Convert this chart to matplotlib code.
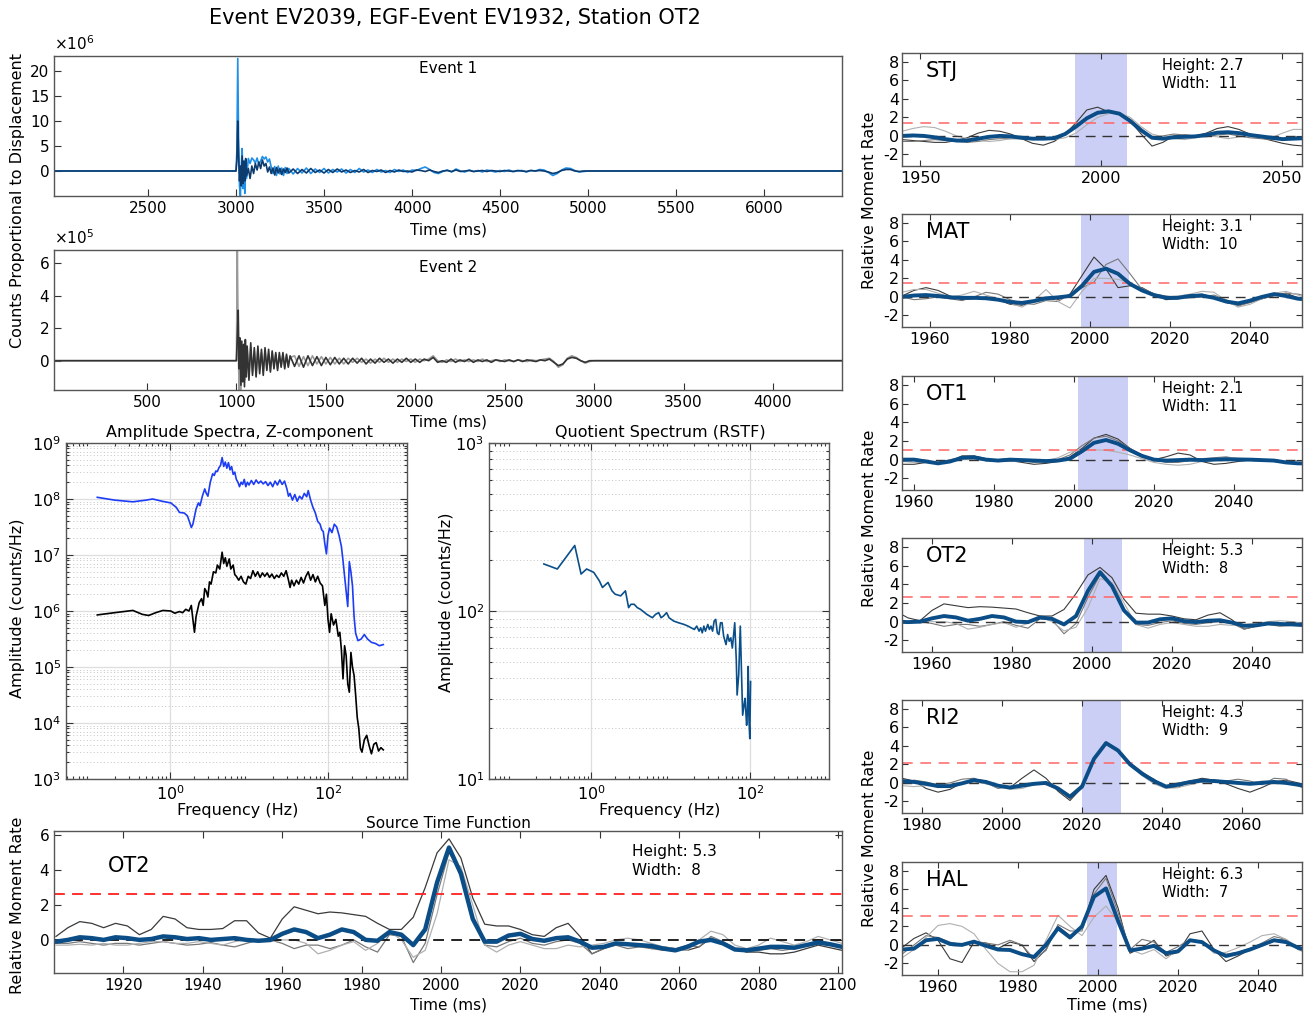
import numpy as np
import matplotlib
matplotlib.use('Agg')
import matplotlib.pyplot as plt

# ---------------- DATA ----------------
# Event 1 waveform (units of 1e6 counts), two components
E1_PRE_T = [1966, 2995]
E1_PRE_V = [0.0, 0.0]
E1_ONSET_T = [3000, 3005, 3010, 3015, 3020, 3025, 3030, 3035, 3040, 3045, 3050, 3055, 3060,
              3070, 3080, 3090, 3100, 3110, 3120, 3130, 3140, 3150, 3160, 3170, 3180, 3190,
              3200, 3210, 3220, 3230, 3240, 3250, 3260, 3270, 3280, 3290, 3300]
E1_LIGHT_ONSET = [0, 4, 22.5, 5, -3, -5, 1, 4.5, -3.5, 1.5, -4.5, 0.5, -1.5, 2.5, 1.5, 2.6, 2.2,
                  1.6, 2.6, 1.2, 2.0, 2.9, 2.4, 2.8, 1.8, 2.4, 0.8, -0.5, 0.9, -0.9, 1.0, -0.6,
                  0.6, -0.9, 0.7, -0.5, 0.5]
E1_DARK_ONSET = [0, 2, 10, 3, -2, 1, -3, 3, -2.5, 2, -2, 2.5, -1, 0.5, -1.5, 1.0, -0.5, 1.5, 0.2,
                 1.8, 0.5, 2.2, 1.0, 1.5, -0.2, 0.8, -0.5, 0.6, -0.8, 0.7, -0.4, 0.5, -0.7, 0.4,
                 -0.3, 0.6, -0.4]
E1_CODA_T = np.arange(3325, 5001, 25)
E1_LIGHT_CODA = [-0.6, 0.5, -0.4, 0.6, -0.5, 0.4, -0.3, 0.5, -0.4, 0.3,
                 -0.2, 0.4, -0.4, 0.3, -0.3, 0.5, -0.2, 0.2, -0.3, 0.3,
                 -0.2, 0.1, -0.3, 0.3, -0.1, 0.2, -0.3, 0.2,
                 0.1, 0.5, 0.8, 0.3, -0.3, -0.5, -0.1, 0.2, -0.2, 0.4,
                 0.0, -0.2, 0.2, -0.1, 0.1, -0.2, 0.2, 0.0, -0.2, 0.1,
                 -0.1, 0.2, -0.1, 0.0, 0.1, -0.2, 0.1, 0.0, 0.3, 0.2,
                 -0.3, -0.9, -0.5, 0.2, 0.6, 0.5, 0.1, -0.2, -0.1, 0.0]
E1_DARK_CODA = [0.4, -0.5, 0.3, -0.4, 0.5, -0.3, 0.2, -0.4, 0.3, -0.3,
                0.4, -0.2, 0.2, -0.3, 0.1, -0.2, 0.3, -0.3, 0.1, -0.1,
                0.2, -0.3, 0.1, -0.2, 0.2, -0.1, 0.0, -0.2,
                0.2, 0.1, -0.1, 0.2, -0.1, -0.3, 0.0, 0.1, -0.1, 0.2,
                -0.1, 0.0, 0.1, -0.1, 0.0, 0.1, -0.1, 0.1, 0.0, -0.1,
                0.1, 0.0, -0.1, 0.1, 0.0, -0.1, 0.1, 0.0, 0.1, 0.0,
                -0.2, -0.5, -0.3, 0.1, 0.3, 0.3, 0.0, -0.1, 0.0, 0.0]
E1_POST_T = [5025, 6443]
E1_POST_V = [0.0, 0.0]

# Event 2 waveform (units of 1e5 counts)
E2_PRE_T = [-20, 995]
E2_PRE_V = [0.0, 0.0]
E2_ONSET_T = [1000, 1005, 1010, 1015, 1020, 1025, 1030, 1035, 1040, 1045, 1050, 1055, 1060,
              1070, 1080, 1090, 1100, 1110, 1120, 1130, 1140, 1150, 1160, 1170, 1180, 1190,
              1200, 1210, 1220, 1230, 1240, 1250, 1260, 1270, 1280, 1290, 1300]
E2_DARK_ONSET = [0, 1.5, 3.1, -0.5, 1.4, -1.5, 1.2, -1.3, 1.0, -1.6, 1.3, -1.0, 0.9, -1.2, 1.1,
                 -0.9, 0.8, -1.0, 0.9, -0.8, 0.7, -0.9, 0.8, -0.6, 0.7, -0.7, 0.6, -0.5, 0.5,
                 -0.6, 0.5, -0.4, 0.5, -0.5, 0.4, -0.4, 0.3]
E2_LIGHT_ONSET = [0, 6.9, 1.0, -1.8, 0.5, -1.8, 0.8, -1.0, 0.6, -1.2, 0.9, -0.8, 0.7, -1.0, 0.8,
                  -0.7, 0.6, -0.9, 0.7, -0.6, 0.5, -0.7, 0.6, -0.5, 0.4, -0.6, 0.5, -0.4, 0.4,
                  -0.5, 0.3, -0.3, 0.4, -0.4, 0.3, -0.3, 0.2]
E2_CODA_T = np.arange(1325, 3001, 25)
E2_DARK_CODA = [-0.35, 0.3, -0.4, 0.3, -0.3, 0.25, -0.3, 0.2, -0.25, 0.2,
                -0.2, 0.15, -0.2, 0.15, -0.15, 0.15, -0.2, 0.1, -0.15, 0.15,
                -0.1, 0.1, -0.15, 0.1, -0.1, 0.15, -0.1, 0.1,
                -0.1, 0.1, 0.0, 0.2, -0.1, 0.0, -0.1, 0.1, -0.1, 0.05,
                -0.05, 0.1, -0.1, 0.05, -0.05, 0.05, -0.1, 0.05, 0.0, -0.05,
                0.05, -0.05, 0.05, -0.05, 0.05, 0.0, -0.05, 0.05, 0.0, 0.1,
                -0.1, -0.3, -0.2, 0.1, 0.2, 0.15, 0.0, -0.1, 0.0, 0.0]
E2_LIGHT_CODA = [0.3, -0.35, 0.25, -0.3, 0.3, -0.2, 0.25, -0.2, 0.2, -0.2,
                 0.15, -0.2, 0.15, -0.1, 0.15, -0.1, 0.1, -0.15, 0.1, -0.1,
                 0.15, -0.1, 0.1, -0.1, 0.1, -0.05, 0.1, -0.1,
                 0.1, 0.0, 0.1, 0.3, 0.0, -0.1, 0.05, -0.05, 0.1, -0.05,
                 0.05, -0.05, 0.05, -0.05, 0.1, -0.05, 0.0, 0.05, -0.05, 0.05,
                 0.0, -0.05, 0.05, 0.0, -0.05, 0.05, 0.0, 0.05, 0.1, 0.15,
                 -0.05, -0.4, -0.25, 0.15, 0.3, 0.2, 0.0, -0.15, -0.05, 0.0]
E2_POST_T = [3025, 4386]
E2_POST_V = [0.0, 0.0]

# Amplitude spectra (log10 frequency [Hz], log10 amplitude [counts/Hz])
SPEC_BLUE_LOGF = [-0.92, -0.70, -0.47, -0.30, -0.22, -0.10, 0.01, 0.08, 0.12, 0.18, 0.22, 0.25,
                  0.27, 0.29, 0.33, 0.36, 0.38, 0.41, 0.44, 0.46, 0.48, 0.51, 0.54, 0.56, 0.58,
                  0.60, 0.62, 0.64, 0.66, 0.68, 0.70, 0.72, 0.74, 0.76, 0.78, 0.80, 0.82, 0.84,
                  0.86, 0.88, 0.90, 0.92, 0.94, 0.96, 0.98, 1.00, 1.03, 1.06, 1.09, 1.12, 1.15,
                  1.18, 1.21, 1.24, 1.27, 1.30, 1.33, 1.36, 1.39, 1.42, 1.45, 1.48, 1.50, 1.52,
                  1.55, 1.58, 1.61, 1.64, 1.67, 1.70, 1.73, 1.75, 1.78, 1.81, 1.84, 1.87, 1.90,
                  1.92, 1.94, 1.96, 1.98, 2.00, 2.02, 2.05, 2.08, 2.11, 2.14, 2.17, 2.19, 2.21,
                  2.23, 2.25, 2.27, 2.29, 2.31, 2.33, 2.35, 2.38, 2.42, 2.46, 2.50, 2.55, 2.60,
                  2.65, 2.70]
SPEC_BLUE_LOGA = [8.03, 7.98, 7.95, 7.98, 8.00, 7.96, 7.93, 7.85, 7.76, 7.75, 7.70, 7.58,
                  7.49, 7.55, 7.82, 7.93, 7.88, 8.05, 8.18, 8.10, 8.05, 8.30, 8.45, 8.42, 8.50,
                  8.49, 8.56, 8.60, 8.74, 8.58, 8.66, 8.55, 8.65, 8.52, 8.58, 8.44, 8.48, 8.35,
                  8.30, 8.22, 8.30, 8.26, 8.35, 8.22, 8.30, 8.25, 8.33, 8.26, 8.34, 8.28, 8.32,
                  8.27, 8.31, 8.24, 8.30, 8.22, 8.32, 8.25, 8.34, 8.26, 8.32, 8.18, 8.05, 8.10,
                  7.98, 8.08, 7.96, 8.05, 8.00, 8.10, 8.04, 8.15, 7.98, 7.85, 7.75, 7.60, 7.55,
                  7.45, 7.42, 7.20, 7.02, 7.35, 7.48, 7.40, 7.55, 7.50, 7.35, 7.15, 6.90, 6.62,
                  6.35, 6.08, 6.88, 6.70, 6.45, 5.90, 5.60, 5.47, 5.50, 5.58, 5.50, 5.44, 5.42,
                  5.38, 5.40]
SPEC_BLACK_LOGF = [-0.92, -0.70, -0.47, -0.35, -0.27, -0.18, -0.09, 0.01, 0.06, 0.12, 0.16, 0.20,
                   0.24, 0.27, 0.29, 0.31, 0.33, 0.37, 0.40, 0.42, 0.44, 0.46, 0.48, 0.50, 0.52,
                   0.55, 0.58, 0.60, 0.63, 0.66, 0.68, 0.70, 0.72, 0.75, 0.77, 0.80, 0.82, 0.84,
                   0.87, 0.90, 0.93, 0.96, 0.99, 1.02, 1.05, 1.08, 1.11, 1.14, 1.17, 1.20, 1.23,
                   1.26, 1.29, 1.32, 1.35, 1.38, 1.41, 1.44, 1.47, 1.50, 1.52, 1.54, 1.57, 1.60,
                   1.63, 1.66, 1.69, 1.72, 1.75, 1.78, 1.81, 1.84, 1.87, 1.90, 1.93, 1.96, 1.98,
                   2.00, 2.02, 2.04, 2.07, 2.10, 2.13, 2.15, 2.17, 2.19, 2.21, 2.23, 2.25, 2.27,
                   2.29, 2.31, 2.33, 2.35, 2.37, 2.39, 2.41, 2.43, 2.46, 2.49, 2.52, 2.55, 2.58,
                   2.61, 2.64, 2.67, 2.70]
SPEC_BLACK_LOGA = [5.93, 5.97, 6.01, 5.94, 5.92, 5.97, 6.01, 6.00, 5.96, 5.99, 5.97, 6.03,
                   6.00, 6.10, 5.85, 5.62, 5.90, 6.15, 6.22, 6.10, 6.40, 6.35, 6.25, 6.52, 6.48,
                   6.70, 6.68, 6.82, 6.75, 7.05, 6.85, 6.95, 6.80, 6.93, 6.75, 6.82, 6.65, 6.62,
                   6.55, 6.62, 6.52, 6.48, 6.62, 6.58, 6.72, 6.62, 6.70, 6.60, 6.68, 6.62, 6.68,
                   6.60, 6.66, 6.58, 6.64, 6.60, 6.68, 6.62, 6.72, 6.55, 6.42, 6.55, 6.45, 6.55,
                   6.48, 6.60, 6.50, 6.62, 6.70, 6.55, 6.65, 6.52, 6.62, 6.50, 6.45, 6.10, 6.30,
                   5.85, 5.62, 5.95, 5.75, 5.85, 5.55, 5.62, 5.30, 4.79, 5.38, 5.20, 4.70, 4.55,
                   5.26, 5.00, 4.85, 4.50, 4.10, 3.90, 3.55, 3.48, 3.70, 3.78, 3.60, 3.45, 3.62,
                   3.65, 3.50, 3.56, 3.52]

# Quotient spectrum (RSTF)
QUOT_LOGF = [-0.60, -0.43, -0.21, -0.13, -0.06, 0.03, 0.10, 0.14, 0.21, 0.26, 0.30, 0.37, 0.43,
             0.47, 0.50, 0.54, 0.58, 0.62, 0.70, 0.77, 0.81, 0.85, 0.88, 0.91, 0.95, 0.98, 1.04,
             1.10, 1.17, 1.22, 1.26, 1.30, 1.33, 1.36, 1.38, 1.40, 1.42, 1.44, 1.47, 1.49, 1.51,
             1.53, 1.55, 1.57, 1.59, 1.61, 1.63, 1.65, 1.67, 1.70, 1.72, 1.74, 1.76, 1.78, 1.81,
             1.83, 1.84, 1.86, 1.88, 1.90, 1.91, 1.93, 1.94, 1.96, 1.97, 1.98, 1.99, 2.00, 2.01]
QUOT_LOGA = [2.28, 2.25, 2.39, 2.22, 2.25, 2.23, 2.18, 2.14, 2.17, 2.12, 2.10, 2.09, 2.12,
             2.02, 2.04, 2.04, 2.02, 2.01, 1.98, 1.96, 1.98, 1.99, 1.96, 1.97, 1.99, 1.96, 1.94,
             1.93, 1.92, 1.91, 1.90, 1.89, 1.91, 1.88, 1.90, 1.87, 1.91, 1.88, 1.92, 1.89, 1.91,
             1.88, 1.94, 1.95, 1.87, 1.86, 1.93, 1.93, 1.85, 1.80, 1.86, 1.82, 1.84, 1.78, 1.93,
             1.70, 1.50, 1.62, 1.91, 1.55, 1.38, 1.45, 1.48, 1.32, 1.40, 1.67, 1.35, 1.24, 1.58]

# Source time functions: mean (blue) and three individual estimates (grays)
OT2_T = np.arange(1903, 2102, 3)
OT2_MEAN = [-0.1, 0.0, 0.15, 0.1, 0.0, 0.15, 0.1, 0.0, 0.05, 0.2,
            0.15, 0.05, 0.1, 0.0, 0.05, 0.1, 0.0, -0.05, 0.0, 0.35,
            0.6, 0.45, 0.1, 0.3, 0.6, 0.45, 0.0, -0.05, 0.45, 0.3,
            -0.3, 0.6, 3.3, 5.3, 3.8, 1.2, -0.1, -0.1, 0.25, 0.35,
            0.05, -0.05, 0.1, 0.15, -0.1, -0.45, -0.4, -0.2, -0.25, -0.3,
            -0.35, -0.5, -0.6, -0.4, -0.1, 0.0, -0.2, -0.55, -0.6, -0.5,
            -0.4, -0.4, -0.45, -0.3, -0.15, -0.25, -0.4]
OT2_G1 = [0.2, 0.7, 1.05, 0.95, 0.7, 0.95, 0.8, 0.3, 0.6, 1.35,
          1.2, 0.7, 0.6, 0.6, 0.65, 1.1, 1.1, 0.4, 0.1, 1.2,
          1.9, 1.7, 1.5, 1.6, 1.55, 1.45, 1.35, 0.95, 0.6, 0.6,
          1.3, 3.0, 5.0, 5.8, 4.7, 2.4, 0.9, 0.8, 0.8, 0.6,
          0.3, 0.2, 0.7, 0.95, 0.2, -0.8, -0.5, -0.2, -0.2, -0.3,
          -0.5, -0.4, -0.5, -0.6, -0.4, 0.1, -0.2, -0.5, -0.7, -0.7,
          -0.8, -0.8, -0.7, -0.5, -0.3, -0.45, -0.6]
OT2_G2 = [-0.2, -0.2, -0.1, -0.2, -0.3, -0.2, -0.2, -0.3, -0.2, -0.1,
          -0.2, -0.3, -0.25, -0.15, -0.3, -0.4, -0.2, 0.0, 0.0, -0.2,
          -0.5, -0.3, -0.3, -0.5, -0.3, 0.0, -0.4, -0.7, 0.3, 0.2,
          -1.3, -0.2, 2.6, 5.0, 3.9, 1.2, -0.3, -0.4, -0.1, 0.1,
          -0.2, -0.3, -0.1, 0.0, -0.2, -0.8, -0.5, -0.3, -0.5, -0.4,
          -0.5, -0.6, -0.55, -0.3, -0.4, 0.2, -0.1, -0.5, -0.7, -0.6,
          -0.5, -0.6, -0.5, -0.3, 0.0, -0.2, -0.4]
OT2_G3 = [-0.3, -0.3, -0.25, -0.3, -0.2, -0.3, -0.3, -0.2, -0.1, -0.1,
          -0.2, -0.2, -0.1, -0.2, -0.3, -0.1, 0.0, -0.1, -0.1, 0.0,
          0.0, -0.2, -0.8, -0.6, -0.3, -0.1, -0.6, -0.2, 0.5, 0.0,
          -1.0, -0.6, 1.5, 4.6, 4.2, 2.0, -0.3, -0.7, -0.3, -0.1,
          -0.3, -0.5, -0.5, -0.3, -0.4, -0.3, -0.2, 0.0, 0.1, 0.0,
          -0.2, -0.4, -0.5, -0.6, 0.0, 0.5, 0.3, -0.3, -0.5, -0.3,
          0.1, -0.1, -0.3, -0.1, 0.2, 0.0, -0.2]

STJ_T = np.arange(1945, 2057, 3)
STJ_MEAN = [0.0, 0.05, 0.0, -0.15, -0.35, -0.5, -0.5, -0.3, -0.1, 0.0,
            -0.05, -0.2, -0.3, -0.3, -0.25, 0.2, 1.0, 1.9, 2.5, 2.65,
            2.4, 1.6, 0.6, -0.2, -0.3, -0.15, -0.1, -0.05, 0.1, 0.35,
            0.4, 0.3, 0.1, -0.05, -0.2, -0.35, -0.3, -0.25]
STJ_G1 = [-0.4, -0.5, -0.6, -0.7, -0.7, -0.5, -0.2, 0.3, 0.6, 0.5,
          0.2, -0.3, -0.8, -1.0, -0.6, 0.2, 1.4, 2.8, 3.1, 2.6,
          2.3, 1.6, 0.2, -1.1, -0.7, 0.0, 0.1, 0.0, 0.3, 0.8,
          1.0, 0.7, 0.2, -0.2, -0.5, -0.8, -1.0, -1.1]
STJ_G2 = [-0.6, -0.6, -0.5, -0.4, -0.5, -0.6, -0.7, -0.6, -0.4, -0.3,
          -0.3, -0.3, -0.2, -0.4, -0.3, 0.3, 1.1, 2.0, 2.4, 2.7,
          2.4, 1.8, 0.8, -0.2, 0.0, 0.2, 0.1, 0.0, -0.1, 0.1,
          0.2, 0.0, -0.2, -0.3, -0.4, -0.4, -0.3, -0.3]
STJ_G3 = [0.5, 0.8, 1.0, 0.9, 0.5, 0.0, -0.3, -0.5, -0.6, -0.5,
          -0.3, -0.3, -0.4, -0.3, -0.4, -0.2, 0.3, 1.2, 2.0, 2.4,
          2.5, 2.0, 1.0, 0.2, -0.1, -0.3, -0.4, -0.2, 0.0, -0.1,
          -0.3, -0.1, 0.0, -0.2, -0.2, 0.3, 0.7, 0.7]

MAT_T = np.arange(1953, 2056, 3)
MAT_MEAN = [0.0, 0.15, 0.2, 0.1, -0.05, -0.1, -0.1, -0.15, -0.3, -0.55,
            -0.65, -0.45, -0.15, -0.05, 0.1, 1.2, 2.7, 3.05, 2.5, 1.4,
            0.7, 0.2, -0.1, -0.1, 0.1, 0.15, -0.1, -0.5, -0.7, -0.4,
            0.0, 0.3, 0.1, -0.2, -0.3]
MAT_G1 = [0.1, 0.7, 1.0, 0.7, 0.1, -0.3, -0.2, 0.0, -0.3, -0.8,
          -0.9, -0.5, -0.2, -0.3, 0.3, 2.3, 4.3, 3.0, 1.0, 1.2,
          1.0, 0.3, -0.3, -0.2, 0.2, 0.3, -0.1, -0.6, -0.9, -0.6,
          -0.2, 0.2, 0.4, -0.1, -0.8]
MAT_G2 = [0.0, -0.3, -0.2, 0.0, -0.2, -0.4, 0.0, 0.5, 0.3, -0.3,
          -0.7, -0.8, -0.4, -0.5, 0.3, 1.0, 1.6, 3.5, 4.1, 2.5,
          0.8, 0.3, 0.1, -0.1, -0.1, 0.0, 0.2, -0.3, -1.0, -0.6,
          -0.2, 0.1, 0.4, 0.3, 0.0]
MAT_G3 = [0.5, 0.8, 0.8, 0.4, 0.0, 0.2, 0.6, 0.2, -0.2, -0.7,
          -1.1, -0.4, 0.8, -0.5, -1.2, 0.6, 2.0, 2.0, 1.9, 1.5,
          0.9, 0.3, 0.0, 0.1, 0.3, 0.6, 0.5, -0.4, -1.1, -0.8,
          -0.2, 0.4, 0.6, 0.2, -0.3]

OT1_T = np.arange(1957, 2060, 3)
OT1_MEAN = [0.0, 0.0, -0.2, -0.4, -0.2, 0.2, 0.25, 0.0, -0.1, 0.0,
            -0.05, -0.1, -0.15, -0.1, 0.1, 0.9, 1.8, 2.1, 1.7, 1.0,
            0.4, 0.0, -0.1, -0.05, 0.0, -0.05, 0.0, 0.05, 0.0, 0.0,
            -0.05, -0.1, -0.3, -0.4, -0.4]
OT1_G1 = [-0.5, -0.5, -0.3, -0.4, -0.2, 0.4, 0.4, 0.1, -0.2, -0.1,
          -0.3, -0.5, -0.4, -0.2, 0.3, 1.2, 2.3, 2.7, 2.2, 1.2,
          0.5, 0.0, 0.3, 0.7, 0.5, -0.2, -0.5, -0.4, -0.2, 0.0,
          -0.1, -0.2, -0.3, -0.4, -0.4]
OT1_G2 = [0.0, 0.1, -0.1, -0.3, 0.0, 0.2, 0.1, -0.1, 0.0, 0.1,
          -0.1, -0.3, -0.2, 0.0, 0.5, 1.5, 2.3, 2.5, 2.0, 1.2,
          0.4, 0.0, -0.3, -0.3, -0.1, 0.1, 0.2, 0.3, 0.1, 0.0,
          -0.1, -0.2, -0.3, -0.5, -0.5]
OT1_G3 = [-0.2, -0.3, -0.3, -0.3, -0.1, 0.0, 0.0, -0.1, -0.2, -0.2,
          -0.2, -0.1, -0.1, 0.2, 0.8, 1.0, 1.05, 1.0, 0.8, 0.5,
          0.1, -0.3, -0.5, -0.6, -0.5, -0.2, 0.1, 0.2, 0.2, 0.1,
          0.0, -0.1, -0.2, -0.3, -0.3]

RI2_T = np.arange(1975, 2078, 3)
RI2_MEAN = [0.2, 0.1, -0.1, -0.35, -0.35, -0.05, 0.3, 0.1, -0.3, -0.5,
            -0.3, -0.1, 0.0, -0.6, -1.5, -0.4, 2.6, 4.3, 3.5, 2.0,
            1.0, 0.2, -0.4, -0.2, 0.1, 0.25, 0.2, 0.1, 0.0, -0.1,
            0.0, 0.1, 0.0, -0.2, -0.4]
RI2_G1 = [0.5, 0.2, -0.6, -1.0, -0.7, 0.0, 0.4, 0.2, -0.4, -0.5,
          0.5, 1.4, 0.5, -0.9, -1.9, -0.5, 2.5, 4.4, 3.6, 2.1,
          1.1, 0.4, -0.5, -0.5, 0.2, 0.5, 0.3, -0.1, -0.6, -1.0,
          -0.5, 0.1, 0.3, 0.0, -0.3]
RI2_G2 = [0.0, 0.3, 0.1, -0.2, 0.0, 0.4, 0.5, 0.0, -0.6, -0.4,
          -0.1, 0.0, -0.2, -0.7, -1.7, -0.3, 2.6, 4.2, 3.4, 2.2,
          1.2, 0.3, -0.3, 0.0, 0.2, 0.1, 0.3, 0.2, 0.4, 0.2,
          -0.2, 0.5, 0.4, -0.3, -0.9]
RI2_G3 = [-0.3, -0.4, -0.3, -0.3, -0.1, 0.0, 0.1, -0.1, -0.4, -0.7,
          -0.6, -0.2, 0.0, -0.5, -1.3, -0.2, 2.6, 4.3, 3.6, 2.0,
          0.8, -0.1, -0.6, -0.5, -0.2, 0.1, 0.2, 0.2, 0.0, 0.0,
          0.2, 0.2, -0.1, -0.2, -0.3]

HAL_T = np.arange(1951, 2054, 3)
HAL_MEAN = [-0.5, -0.4, 0.5, 0.65, 0.1, 0.0, 0.35, -0.1, -0.5, -0.55,
            -1.0, -1.3, 0.0, 1.8, 0.8, 2.0, 5.2, 6.1, 2.6, -0.6,
            -0.4, -0.1, -0.9, -0.7, 0.5, 0.3, -0.6, -1.2, -0.9, -0.5,
            0.0, 0.5, 0.3, -0.3, -0.6]
HAL_G1 = [-0.3, 0.7, 1.3, 0.5, -1.5, -1.9, 0.3, 0.2, -0.4, 0.3,
          0.0, -1.8, -0.5, 2.0, 1.0, 1.8, 6.0, 7.5, 4.0, -0.9,
          -0.3, 0.5, -1.2, -0.8, 1.2, 1.5, -0.5, -1.8, -1.2, -0.5,
          0.0, 0.6, 0.5, -0.3, -0.7]
HAL_G2 = [-1.0, 0.0, 1.0, 0.8, 0.3, 0.0, 0.4, 0.2, 0.0, 0.5,
          0.0, -1.5, -0.6, 2.2, 1.5, 1.5, 5.5, 7.2, 3.5, -0.5,
          0.6, 0.3, -0.8, -0.2, 0.6, 0.2, -0.6, -1.0, -0.8, -0.4,
          0.2, 0.9, 0.6, -0.5, -1.0]
HAL_G3 = [-1.4, -0.5, 0.8, 2.1, 2.3, 2.0, 1.2, -0.5, -2.0, -2.9,
          -2.9, -2.2, 0.5, 3.2, 2.0, 1.0, 3.0, 4.2, 2.5, -0.5,
          -1.0, -0.5, -1.5, -0.5, 0.5, 0.3, -0.9, -0.8, -0.3, 0.3,
          1.0, 1.2, 0.6, -0.2, -1.3]

STATIONS = ['STJ', 'MAT', 'OT1', 'OT2', 'RI2', 'HAL']
HEIGHTS = ['2.7', '3.1', '2.1', '5.3', '4.3', '6.3']
WIDTHS = ['11', '10', '11', '8', '9', '7']
HALF_LEVELS = [1.35, 1.55, 1.05, 2.65, 2.15, 3.15]
SPANS = [(1992.8, 2007.1), (1997.7, 2009.7), (2001.0, 2013.5),
         (1998.1, 2007.5), (2020.1, 2029.7), (1997.2, 2004.7)]
XLIMS = [(1945, 2055.4), (1953, 2053), (1957, 2057), (1952.5, 2052.5), (1975, 2075), (1951, 2051)]
XTICKS = [[1950, 2000, 2050], [1960, 1980, 2000, 2020, 2040], [1960, 1980, 2000, 2020, 2040],
          [1960, 1980, 2000, 2020, 2040], [1980, 2000, 2020, 2040, 2060],
          [1960, 1980, 2000, 2020, 2040]]
STF_DATA = [(STJ_T, STJ_MEAN, STJ_G1, STJ_G2, STJ_G3),
            (MAT_T, MAT_MEAN, MAT_G1, MAT_G2, MAT_G3),
            (OT1_T, OT1_MEAN, OT1_G1, OT1_G2, OT1_G3),
            (OT2_T, OT2_MEAN, OT2_G1, OT2_G2, OT2_G3),
            (RI2_T, RI2_MEAN, RI2_G1, RI2_G2, RI2_G3),
            (HAL_T, HAL_MEAN, HAL_G1, HAL_G2, HAL_G3)]

# ---------------- FIGURE ----------------
plt.rcParams['font.family'] = ['DejaVu Sans']
plt.rcParams['axes.unicode_minus'] = False

W, H = 1308, 1017
fig = plt.figure(figsize=(W / 100, H / 100), dpi=100)


def axpx(x0, y0, x1, y1):
    return fig.add_axes([x0 / W, 1 - y1 / H, (x1 - x0) / W, (y1 - y0) / H])


def ftext(x, y, s, **kw):
    fig.text(x / W, 1 - y / H, s, **kw)


def style(ax, fs=11):
    for s in ax.spines.values():
        s.set_color('#555555')
        s.set_linewidth(1.0)
    ax.tick_params(which='both', direction='in', top=True, right=True, labelsize=fs,
                   color='#333333', width=0.8)
    ax.tick_params(which='major', length=5)
    ax.tick_params(which='minor', length=2.5)


GRAYS = ['#3a3a3a', '#787878', '#b0b0b0']
STF_BLUE = '#0b4d86'

# Event 1
ax1 = axpx(54, 56, 842, 196)
t_e1 = np.concatenate([E1_PRE_T, E1_ONSET_T, E1_CODA_T, E1_POST_T])
ax1.plot(t_e1, np.concatenate([E1_PRE_V, E1_LIGHT_ONSET, E1_LIGHT_CODA, E1_POST_V]),
         color='#1f8fe8', lw=1.2)
ax1.plot(t_e1, np.concatenate([E1_PRE_V, E1_DARK_ONSET, E1_DARK_CODA, E1_POST_V]),
         color='#0d3b6e', lw=1.2)
ax1.set_xlim(1966, 6443)
ax1.set_ylim(-5, 23)
ax1.set_xticks(np.arange(2500, 6001, 500))
ax1.set_yticks([0, 5, 10, 15, 20])
style(ax1)
ax1.tick_params(right=False, top=False)
ax1.text(0.5, 0.88, 'Event 1', transform=ax1.transAxes, ha='center', fontsize=11)
ax1.text(0.0, 1.02, r'$\times10^{6}$', transform=ax1.transAxes, ha='left', va='bottom',
         fontsize=11)

# Event 2
ax2 = axpx(54, 250, 842, 390)
t_e2 = np.concatenate([E2_PRE_T, E2_ONSET_T, E2_CODA_T, E2_POST_T])
ax2.plot(t_e2, np.concatenate([E2_PRE_V, E2_LIGHT_ONSET, E2_LIGHT_CODA, E2_POST_V]),
         color='#9a9a9a', lw=1.2)
ax2.plot(t_e2, np.concatenate([E2_PRE_V, E2_DARK_ONSET, E2_DARK_CODA, E2_POST_V]),
         color='#333333', lw=1.2)
ax2.set_xlim(-20, 4386)
ax2.set_ylim(-1.8, 6.8)
ax2.set_xticks(np.arange(500, 4001, 500))
ax2.set_yticks([0, 2, 4, 6])
style(ax2)
ax2.tick_params(right=False, top=False)
ax2.text(0.5, 0.84, 'Event 2', transform=ax2.transAxes, ha='center', fontsize=11)
ax2.text(0.0, 1.02, r'$\times10^{5}$', transform=ax2.transAxes, ha='left', va='bottom',
         fontsize=11)

ftext(18, 200, 'Counts Proportional to Displacement', rotation=90, ha='center', va='center',
      fontsize=11.5)
ftext(448, 230, 'Time (ms)', ha='center', va='center', fontsize=11)
ftext(448, 422, 'Time (ms)', ha='center', va='center', fontsize=11)
ftext(455, 18, 'Event EV2039, EGF-Event EV1932, Station OT2', ha='center', va='center',
      fontsize=15)


def spec_style(ax):
    style(ax, fs=11.5)
    ax.set_xscale('log')
    ax.set_yscale('log')
    ax.grid(True, which='major', color='#dedede', lw=0.9, ls='-')
    ax.grid(True, which='minor', axis='y', color='#c4c4c4', lw=0.7, ls=(0, (1, 2.5)))
    ax.set_axisbelow(True)


# Amplitude spectra
ax3 = axpx(66, 443, 407, 779)
spec_style(ax3)
ax3.plot(10 ** np.array(SPEC_BLUE_LOGF), 10 ** np.array(SPEC_BLUE_LOGA), color='#1d3cf5', lw=1.2)
ax3.plot(10 ** np.array(SPEC_BLACK_LOGF), 10 ** np.array(SPEC_BLACK_LOGA), color='#000000', lw=1.2)
ax3.set_xlim(0.0483, 1000)
ax3.set_ylim(1e3, 1e9)
ax3.set_xticks([1, 100])
ax3.set_yticks([1e3, 1e4, 1e5, 1e6, 1e7, 1e8, 1e9])
ftext(240, 432, 'Amplitude Spectra, Z-component', ha='center', va='center', fontsize=11.5)
ftext(238, 810, 'Frequency (Hz)', ha='center', va='center', fontsize=11.5)
ftext(18, 608, 'Amplitude (counts/Hz)', rotation=90, ha='center', va='center', fontsize=11.5)

# Quotient spectrum
ax4 = axpx(489, 443, 829, 779)
spec_style(ax4)
ax4.plot(10 ** np.array(QUOT_LOGF), 10 ** np.array(QUOT_LOGA), color='#0b4f8a', lw=1.2)
ax4.set_xlim(0.051, 1000)
ax4.set_ylim(10, 1000)
ax4.set_xticks([1, 100])
ax4.set_yticks([10, 100, 1000])
ftext(660, 432, 'Quotient Spectrum (RSTF)', ha='center', va='center', fontsize=11.5)
ftext(660, 810, 'Frequency (Hz)', ha='center', va='center', fontsize=11.5)
ftext(447, 602, 'Amplitude (counts/Hz)', rotation=90, ha='center', va='center', fontsize=11.5)

# Source time function (bottom)
ax5 = axpx(54, 831, 842, 973)
for g, c in zip([OT2_G1, OT2_G2, OT2_G3], GRAYS):
    ax5.plot(OT2_T, g, color=c, lw=0.9)
ax5.axhline(0, color='#111111', lw=1.3, ls=(0, (6, 4)))
ax5.axhline(2.65, color='#ff2020', lw=1.3, ls=(0, (6, 4)))
ax5.plot(OT2_T, OT2_MEAN, color=STF_BLUE, lw=3.2)
ax5.set_xlim(1902.5, 2101)
ax5.set_ylim(-1.9, 6.25)
ax5.set_xticks(np.arange(1920, 2101, 20))
ax5.set_yticks([0, 2, 4, 6])
style(ax5)
ax5.text(0.068, 0.75, 'OT2', transform=ax5.transAxes, fontsize=15, va='center')
ax5.text(0.733, 0.79, 'Height: 5.3\nWidth:  8', transform=ax5.transAxes, fontsize=11,
         va='center', linespacing=1.3)
ftext(448, 823, 'Source Time Function', ha='center', va='center', fontsize=11)
ftext(448, 1005, 'Time (ms)', ha='center', va='center', fontsize=11)
ftext(18, 905, 'Relative Moment Rate', rotation=90, ha='center', va='center', fontsize=11.5)

# Right column station panels
PANEL_Y = [(53, 166), (214, 327), (376, 490), (538, 652), (700, 813), (862, 975)]
for i, (y0, y1) in enumerate(PANEL_Y):
    ax = axpx(902, y0, 1302, y1)
    t, mean, g1, g2, g3 = STF_DATA[i]
    ax.axvspan(SPANS[i][0], SPANS[i][1], color='#cbcff5', lw=0)
    for g, c in zip([g1, g2, g3], GRAYS):
        ax.plot(t, g, color=c, lw=0.8)
    ax.axhline(0, color='#333333', lw=1.0, ls=(0, (7, 5)))
    ax.axhline(HALF_LEVELS[i], color='#ff6464', lw=1.1, ls=(0, (7, 5)))
    ax.plot(t, mean, color=STF_BLUE, lw=2.8)
    ax.set_xlim(*XLIMS[i])
    ax.set_ylim(-3.25, 8.95)
    ax.set_xticks(XTICKS[i])
    ax.set_yticks([-2, 0, 2, 4, 6, 8])
    style(ax, fs=11.5)
    ax.tick_params(which='major', length=4)
    ax.tick_params(axis='y', pad=2)
    ax.text(0.06, 0.84, STATIONS[i], transform=ax.transAxes, fontsize=15, va='center')
    ax.text(0.65, 0.81, 'Height: %s\nWidth:  %s' % (HEIGHTS[i], WIDTHS[i]),
            transform=ax.transAxes, fontsize=10.5, va='center', linespacing=1.25)

for yc in (200, 518, 838):
    ftext(870, yc, 'Relative Moment Rate', rotation=90, ha='center', va='center', fontsize=11.5)
ftext(1107, 1005, 'Time (ms)', ha='center', va='center', fontsize=11.5)

fig.savefig('out.png', dpi=100)
